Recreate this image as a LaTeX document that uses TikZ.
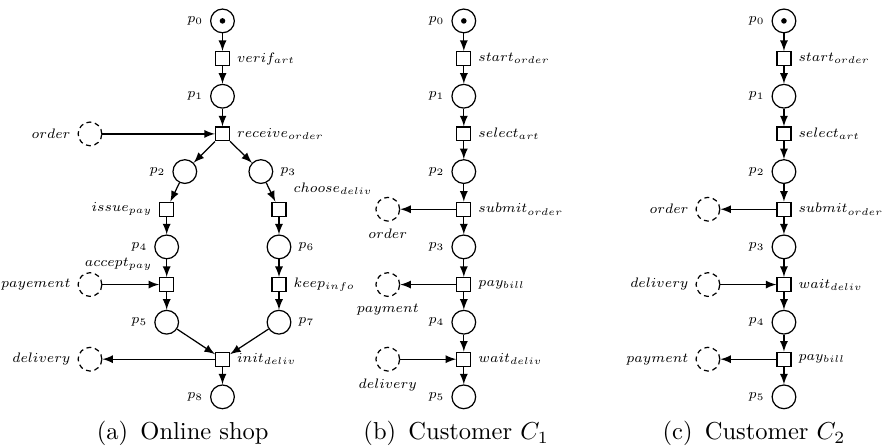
\documentclass[tikz,border=0pt]{standalone}
\usepackage{tikz}
\usetikzlibrary{arrows,positioning}
\tikzset
{
    place/.style      = {circle, draw=black, minimum size=3.4mm, inner sep=0pt},
    transition/.style = {rectangle, draw=black, minimum size=2mm, inner sep=0pt},
    extplace/.style   = {circle, draw=black, dash pattern=on 2pt off 1.5pt, minimum size=3.4mm, inner sep=0pt},
    token/.style      = {circle, fill=black, minimum size=0.8mm, inner sep=0pt},
    caption/.style    = {font=\normalsize},
    every label/.style = {font=\scriptsize, scale=0.8}
}

\begin{document}
\begin{tikzpicture}[->,>=latex,line width=0.5pt]
\useasboundingbox (0,0) rectangle (12.66,-6.42);
% (a) online shop
\node [place,label=left:$p_0$] at (3.19,-0.30) (p0a) {};
\node [token] at (p0a) (tok0a) {};
\node [transition,label=right:$verif_{art}$] at (3.19,-0.84) (verif) {};
\node [place,label=left:$p_1$] at (3.19,-1.38) (p1a) {};
\node [transition,label=right:$receive_{order}$] at (3.19,-1.92) (receive) {};
\node [extplace,label=left:$order$] at (1.29,-1.92) (ordera) {};
\node [place,label=left:$p_2$] at (2.65,-2.46) (p2a) {};
\node [place,label=right:$p_3$] at (3.74,-2.46) (p3a) {};
\node [transition,label=left:$issue_{pay}$] at (2.39,-3.00) (issue) {};
\node [transition,label=above right:$choose_{deliv}$] at (4.00,-3.00) (choose) {};
\node [place,label=left:$p_4$] at (2.39,-3.54) (p4a) {};
\node [place,label=right:$p_6$] at (4.00,-3.54) (p6a) {};
\node [transition,label=above left:$accept_{pay}$] at (2.39,-4.08) (accept) {};
\node [transition,label=right:$keep_{info}$] at (4.00,-4.08) (keep) {};
\node [extplace,label=left:$payement$] at (1.29,-4.08) (payementa) {};
\node [place,label=left:$p_5$] at (2.39,-4.62) (p5a) {};
\node [place,label=right:$p_7$] at (4.00,-4.62) (p7a) {};
\node [transition,label=right:$init_{deliv}$] at (3.19,-5.15) (init) {};
\node [extplace,label=left:$delivery$] at (1.29,-5.15) (deliverya) {};
\node [place,label=left:$p_8$] at (3.19,-5.69) (p8a) {};
\draw (p0a) edge (verif);
\draw (verif) edge (p1a);
\draw (p1a) edge (receive);
\draw (ordera) edge (receive);
\draw (receive) edge (p2a);
\draw (receive) edge (p3a);
\draw (p2a) edge (issue);
\draw (p3a) edge (choose);
\draw (issue) edge (p4a);
\draw (choose) edge (p6a);
\draw (p4a) edge (accept);
\draw (payementa) edge (accept);
\draw (p6a) edge (keep);
\draw (accept) edge (p5a);
\draw (keep) edge (p7a);
\draw (p5a) edge (init);
\draw (p7a) edge (init);
\draw (init) edge (deliverya);
\draw (init) edge (p8a);
\node [caption] at (2.62,-6.22) (capa) {(a)\enspace Online shop};
% (b) customer C1
\node [place,label=left:$p_0$] at (6.65,-0.30) (p0b) {};
\node [token] at (p0b) (tok0b) {};
\node [transition,label=right:$start_{order}$] at (6.65,-0.84) (startb) {};
\node [place,label=left:$p_1$] at (6.65,-1.38) (p1b) {};
\node [transition,label=right:$select_{art}$] at (6.65,-1.92) (selectb) {};
\node [place,label=left:$p_2$] at (6.65,-2.46) (p2b) {};
\node [transition,label=right:$submit_{order}$] at (6.65,-3.00) (submitb) {};
\node [extplace,label=below:$order$] at (5.56,-3.00) (orderb) {};
\node [place,label=left:$p_3$] at (6.65,-3.54) (p3b) {};
\node [transition,label=right:$pay_{bill}$] at (6.65,-4.08) (payb) {};
\node [extplace,label=below:$payment$] at (5.56,-4.08) (paymentb) {};
\node [place,label=left:$p_4$] at (6.65,-4.62) (p4b) {};
\node [transition,label=right:$wait_{deliv}$] at (6.65,-5.15) (waitb) {};
\node [extplace,label=below:$delivery$] at (5.56,-5.15) (deliveryb) {};
\node [place,label=left:$p_5$] at (6.65,-5.69) (p5b) {};
\draw (p0b) edge (startb);
\draw (startb) edge (p1b);
\draw (p1b) edge (selectb);
\draw (selectb) edge (p2b);
\draw (p2b) edge (submitb);
\draw (submitb) edge (orderb);
\draw (submitb) edge (p3b);
\draw (p3b) edge (payb);
\draw (payb) edge (paymentb);
\draw (payb) edge (p4b);
\draw (p4b) edge (waitb);
\draw (deliveryb) edge (waitb);
\draw (waitb) edge (p5b);
\node [caption] at (6.54,-6.22) (capb) {(b)\enspace Customer $C_1$};
% (c) customer C2
\node [place,label=left:$p_0$] at (11.24,-0.30) (p0c) {};
\node [token] at (p0c) (tok0c) {};
\node [transition,label=right:$start_{order}$] at (11.24,-0.84) (startc) {};
\node [place,label=left:$p_1$] at (11.24,-1.38) (p1c) {};
\node [transition,label=right:$select_{art}$] at (11.24,-1.92) (selectc) {};
\node [place,label=left:$p_2$] at (11.24,-2.46) (p2c) {};
\node [transition,label=right:$submit_{order}$] at (11.24,-3.00) (submitc) {};
\node [extplace,label=left:$order$] at (10.15,-3.00) (orderc) {};
\node [place,label=left:$p_3$] at (11.24,-3.54) (p3c) {};
\node [transition,label=right:$wait_{deliv}$] at (11.24,-4.08) (waitc) {};
\node [extplace,label=left:$delivery$] at (10.15,-4.08) (deliveryc) {};
\node [place,label=left:$p_4$] at (11.24,-4.62) (p4c) {};
\node [transition,label=right:$pay_{bill}$] at (11.24,-5.15) (payc) {};
\node [extplace,label=left:$payment$] at (10.15,-5.15) (paymentc) {};
\node [place,label=left:$p_5$] at (11.24,-5.69) (p5c) {};
\draw (p0c) edge (startc);
\draw (startc) edge (p1c);
\draw (p1c) edge (selectc);
\draw (selectc) edge (p2c);
\draw (p2c) edge (submitc);
\draw (submitc) edge (orderc);
\draw (submitc) edge (p3c);
\draw (p3c) edge (waitc);
\draw (deliveryc) edge (waitc);
\draw (waitc) edge (p4c);
\draw (p4c) edge (payc);
\draw (payc) edge (paymentc);
\draw (payc) edge (p5c);
\node [caption] at (10.81,-6.22) (capc) {(c)\enspace Customer $C_2$};
\end{tikzpicture}
\end{document}
